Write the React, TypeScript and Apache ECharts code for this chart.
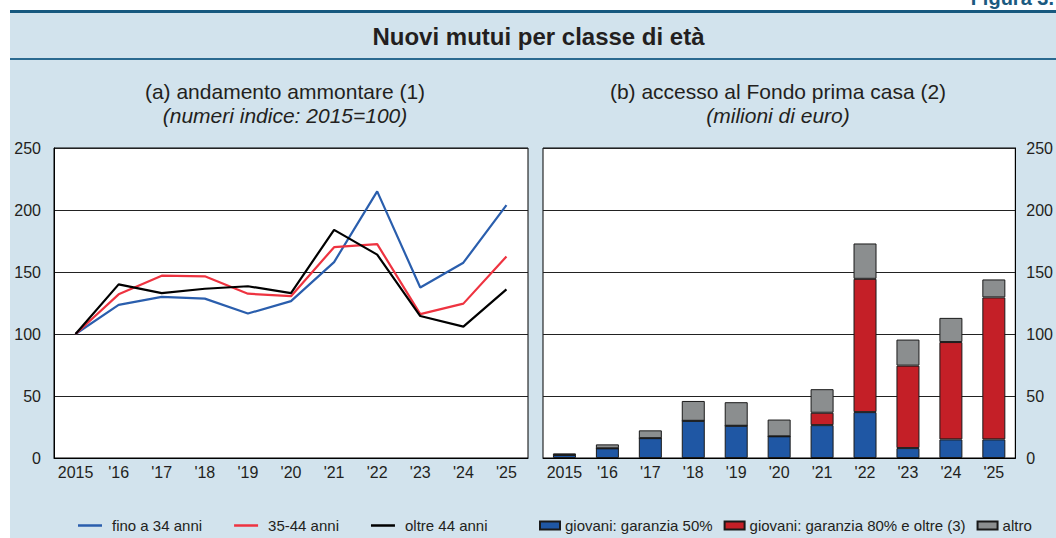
import React, { useEffect, useRef } from "react";
import * as echarts from "echarts";

const years = ["2015", "'16", "'17", "'18", "'19", "'20", "'21", "'22", "'23", "'24", "'25"];
const yTicks = { min: 0, max: 250, interval: 50 };

const lineNames = ["fino a 34 anni", "35-44 anni", "oltre 44 anni"];
const fino34 = [100, 123.5, 130, 128.5, 116.5, 126.5, 158, 215, 137.5, 157.5, 204];
const anni3544 = [100, 132, 147, 146.5, 132.5, 130.5, 170, 172.5, 116, 124.5, 162.5];
const oltre44 = [100, 140, 133, 136.5, 138.5, 133, 184, 164, 114.5, 106, 136];

const barNames = ["giovani: garanzia 50%", "giovani: garanzia 80% e oltre (3)", "altro"];
const garanzia50 = [2.5, 7.8, 16, 30, 26, 17.5, 26.5, 37, 8, 15, 15];
const garanzia80 = [0, 0, 0, 0, 0, 0, 10, 107.5, 66.5, 78.5, 114.5];
const altro = [1.2, 3.2, 6.3, 16, 19, 13.5, 19, 28.5, 21, 19.5, 14.5];

const FONT = "'Liberation Sans', Arial, Helvetica, sans-serif";
const TXT = "#231f20";
const BG = "#d2e3ed";

export default function App() {
  const ref = useRef<HTMLDivElement>(null);
  useEffect(() => {
    const chart = echarts.init(ref.current as HTMLDivElement, null, {
      renderer: "svg",
      width: 1056,
      height: 538,
    });
    const xAxisBase = (gridIndex: number) => ({
      gridIndex,
      type: "category" as const,
      data: years,
      axisTick: { show: false },
      axisLine: { lineStyle: { color: "#000", width: 1 } },
      axisLabel: { fontSize: 16, color: TXT, fontFamily: FONT, margin: 6, interval: 0 },
    });
    const yAxisBase = (gridIndex: number, position: "left" | "right", margin: number) => ({
      gridIndex,
      type: "value" as const,
      position,
      min: yTicks.min,
      max: yTicks.max,
      interval: yTicks.interval,
      axisLine: { show: true, lineStyle: { color: "#000", width: 1 } },
      axisTick: { show: false },
      splitLine: { lineStyle: { color: "#222", width: 1 } },
      axisLabel: { fontSize: 16, color: TXT, fontFamily: FONT, margin },
    });
    const lineSeries = (name: string, data: number[], color: string) => ({
      name,
      type: "line" as const,
      xAxisIndex: 0,
      yAxisIndex: 0,
      data,
      symbol: "none",
      lineStyle: { color, width: 2.2 },
      itemStyle: { color },
    });
    const barSeries = (name: string, data: number[], color: string) => ({
      name,
      type: "bar" as const,
      xAxisIndex: 1,
      yAxisIndex: 1,
      stack: "fondo",
      data,
      barWidth: 23,
      itemStyle: { color, borderColor: "#1a1a1a", borderWidth: 1 },
    });
    const option: any = {
      animation: false,
      backgroundColor: BG,
      textStyle: { fontFamily: FONT },
      grid: [
        { left: 54, top: 148, width: 474, height: 310, show: true, backgroundColor: "#fff", borderColor: "#000", borderWidth: 1 },
        { left: 543, top: 148, width: 473, height: 310, show: true, backgroundColor: "#fff", borderColor: "#000", borderWidth: 1 },
      ],
      xAxis: [xAxisBase(0), xAxisBase(1)],
      yAxis: [yAxisBase(0, "left", 13), yAxisBase(1, "right", 11)],
      legend: [
        {
          data: lineNames,
          left: 73,
          top: 513,
          icon: "rect",
          itemWidth: 24,
          itemHeight: 2.5,
          itemGap: 32,
          textStyle: { fontSize: 15, color: TXT, fontFamily: FONT, padding: [0, 0, 0, 5] },
        },
        {
          data: barNames,
          left: 534,
          top: 513,
          icon: "rect",
          itemWidth: 20,
          itemHeight: 8,
          itemGap: 11,
          textStyle: { fontSize: 15, color: TXT, fontFamily: FONT },
        },
      ],
      graphic: [
        { type: "rect", shape: { x: 0, y: 0, width: 1056, height: 10 }, style: { fill: "#fff" } },
        { type: "rect", shape: { x: 0, y: 0, width: 10, height: 538 }, style: { fill: "#fff" } },
        { type: "rect", shape: { x: 10, y: 10, width: 1046, height: 3 }, style: { fill: "#17597f" } },
        { type: "rect", shape: { x: 10, y: 58, width: 1046, height: 2 }, style: { fill: "#2a6a90" } },
        {
          type: "text",
          x: 1054,
          y: 8,
          style: { text: "Figura 3.", fill: "#1b5a80", font: `bold 20px ${FONT}`, align: "right", verticalAlign: "bottom" },
        },
        {
          type: "text",
          x: 538.5,
          y: 36,
          style: { text: "Nuovi mutui per classe di età", fill: TXT, font: `bold 24px ${FONT}`, align: "center", verticalAlign: "middle" },
        },
        {
          type: "text",
          x: 285,
          y: 91,
          style: { text: "(a) andamento ammontare (1)", fill: TXT, font: `21px ${FONT}`, align: "center", verticalAlign: "middle" },
        },
        {
          type: "text",
          x: 285,
          y: 115,
          style: { text: "(numeri indice: 2015=100)", fill: TXT, font: `italic 21px ${FONT}`, align: "center", verticalAlign: "middle" },
        },
        {
          type: "text",
          x: 778,
          y: 91,
          style: { text: "(b) accesso al Fondo prima casa (2)", fill: TXT, font: `21px ${FONT}`, align: "center", verticalAlign: "middle" },
        },
        {
          type: "text",
          x: 778,
          y: 115,
          style: { text: "(milioni di euro)", fill: TXT, font: `italic 21px ${FONT}`, align: "center", verticalAlign: "middle" },
        },
      ],
      series: [
        lineSeries(lineNames[0], fino34, "#2a5ead"),
        lineSeries(lineNames[1], anni3544, "#ee3340"),
        lineSeries(lineNames[2], oltre44, "#000000"),
        barSeries(barNames[0], garanzia50, "#1f57a4"),
        barSeries(barNames[1], garanzia80, "#c41f27"),
        barSeries(barNames[2], altro, "#8b8e8f"),
      ],
    };
    chart.setOption(option);
    return () => chart.dispose();
  }, []);
  return <div ref={ref} style={{ position: "absolute", left: 0, top: 0, width: 1056, height: 538 }} />;
}
